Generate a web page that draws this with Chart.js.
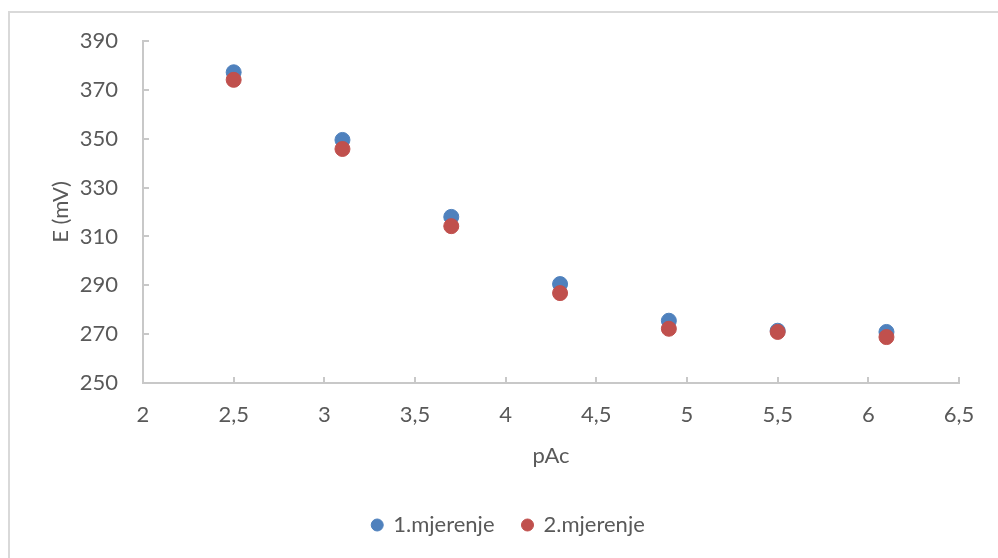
<!DOCTYPE html>
<html>
<head>
<meta charset="utf-8">
<script src="https://cdn.jsdelivr.net/npm/chart.js@4"></script>
<style>
  html, body { margin: 0; padding: 0; background: #fff; }
  #wrap { width: 998px; height: 558px; position: relative; }
</style>
</head>
<body>
<div id="wrap"><canvas id="myChart" width="998" height="558"></canvas></div>
<script>
const pAc = [2.5, 3.1, 3.7, 4.3, 4.9, 5.5, 6.1];
const mjerenje1 = [377.2, 349.5, 318.0, 290.5, 275.5, 271.4, 270.9];
const mjerenje2 = [374.1, 345.8, 314.2, 286.8, 272.2, 270.9, 268.8];
const seriesNames = ['1.mjerenje', '2.mjerenje'];

const textColor = '#595959';
const axisColor = '#c8c8c8';
const font = { family: 'Lato, "Open Sans", sans-serif', size: 22 };

const toPoints = (xs, ys) => xs.map((x, i) => ({ x: x, y: ys[i] }));

// frame around the whole chart + small inside tick marks like excel
const excelLook = {
  id: 'excelLook',
  beforeDraw(chart) {
    const ctx = chart.ctx;
    ctx.save();
    ctx.strokeStyle = '#d9d9d9';
    ctx.lineWidth = 2;
    ctx.strokeRect(9, 12, 1200, 1200);
    ctx.restore();
  },
  afterDraw(chart) {
    const ctx = chart.ctx;
    const area = chart.chartArea;
    const xs = chart.scales.x, ys = chart.scales.y;
    ctx.save();
    ctx.strokeStyle = axisColor;
    ctx.lineWidth = 2;
    ctx.beginPath();
    ys.ticks.forEach(t => {
      const y = Math.round(ys.getPixelForValue(t.value));
      ctx.moveTo(area.left, y);
      ctx.lineTo(area.left + 6, y);
    });
    xs.ticks.forEach(t => {
      const x = Math.round(xs.getPixelForValue(t.value));
      ctx.moveTo(x, area.bottom);
      ctx.lineTo(x, area.bottom - 6);
    });
    ctx.stroke();
    ctx.restore();
  }
};

const canvas = document.getElementById('myChart');

const chart = new Chart(canvas, {
  type: 'scatter',
  data: {
    datasets: [
      {
        label: seriesNames[0],
        data: toPoints(pAc, mjerenje1),
        backgroundColor: '#4F81BD',
        borderColor: '#4F81BD',
        pointRadius: 7.5,
        pointHoverRadius: 7.5,
        order: 2
      },
      {
        label: seriesNames[1],
        data: toPoints(pAc, mjerenje2),
        backgroundColor: '#C0504D',
        borderColor: '#C0504D',
        pointRadius: 7.5,
        pointHoverRadius: 7.5,
        order: 1
      }
    ]
  },
  options: {
    responsive: false,
    animation: false,
    layout: { padding: { left: 58, right: 39, top: 41, bottom: 12 } },
    plugins: {
      tooltip: { enabled: false },
      legend: {
        position: 'bottom',
        labels: {
          usePointStyle: true,
          pointStyle: 'circle',
          boxWidth: 10,
          boxHeight: 8.5,
          padding: 28,
          color: textColor,
          font: font,
          sort: (a, b) => a.datasetIndex - b.datasetIndex
        }
      }
    },
    scales: {
      x: {
        type: 'linear',
        min: 2,
        max: 6.5,
        afterFit: s => { s.height = 103; },
        grid: { drawOnChartArea: false, drawTicks: false },
        border: { display: true, color: axisColor, width: 2 },
        ticks: {
          stepSize: 0.5,
          padding: 19,
          color: textColor,
          font: font,
          maxRotation: 0,
          callback: v => String(v).replace('.', ',')
        },
        title: {
          display: true,
          text: 'pAc',
          color: textColor,
          font: font,
          padding: { top: 0, bottom: 17 }
        }
      },
      y: {
        min: 250,
        max: 390,
        afterFit: s => { s.width = 85; },
        grid: { drawOnChartArea: false, drawTicks: false },
        border: { display: true, color: axisColor, width: 2 },
        ticks: {
          stepSize: 20,
          padding: 25,
          color: textColor,
          font: font
        },
        title: {
          display: true,
          text: 'E (mV)',
          color: textColor,
          font: font,
          padding: { top: -10, bottom: 0 }
        }
      }
    }
  },
  plugins: [excelLook]
});
</script>
</body>
</html>
